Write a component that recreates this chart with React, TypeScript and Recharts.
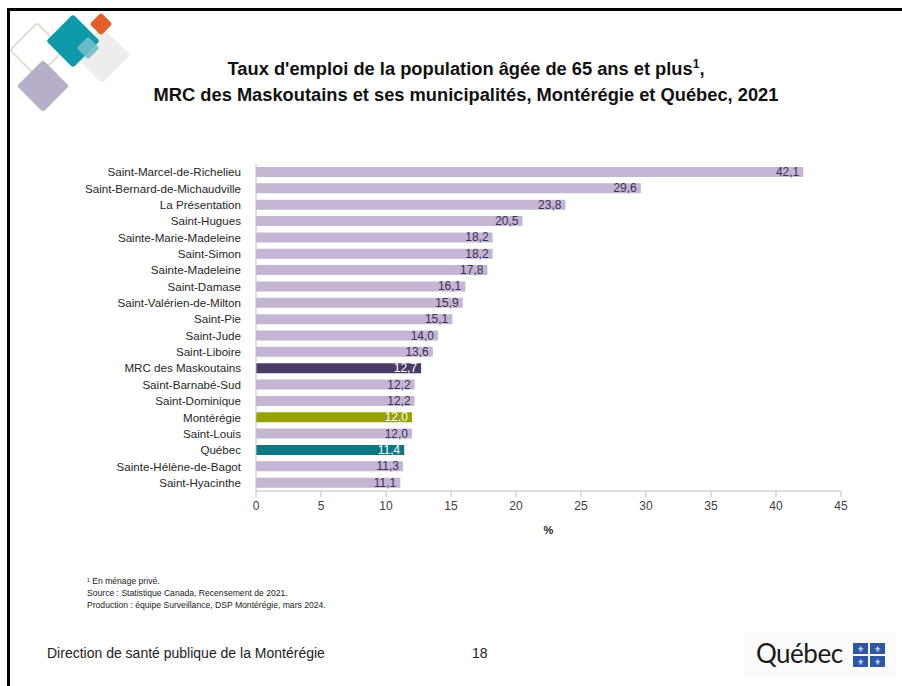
import React from "react";
import { BarChart, Bar, XAxis, YAxis, Cell, LabelList } from "recharts";

const categories = [
  "Saint-Marcel-de-Richelieu",
  "Saint-Bernard-de-Michaudville",
  "La Présentation",
  "Saint-Hugues",
  "Sainte-Marie-Madeleine",
  "Saint-Simon",
  "Sainte-Madeleine",
  "Saint-Damase",
  "Saint-Valérien-de-Milton",
  "Saint-Pie",
  "Saint-Jude",
  "Saint-Liboire",
  "MRC des Maskoutains",
  "Saint-Barnabé-Sud",
  "Saint-Dominique",
  "Montérégie",
  "Saint-Louis",
  "Québec",
  "Sainte-Hélène-de-Bagot",
  "Saint-Hyacinthe",
];

const values = [
  42.1, 29.6, 23.8, 20.5, 18.2, 18.2, 17.8, 16.1, 15.9, 15.1, 14.0, 13.6, 12.7,
  12.2, 12.2, 12.0, 12.0, 11.4, 11.3, 11.1,
];

const xTicks = [0, 5, 10, 15, 20, 25, 30, 35, 40, 45];

const titleLines = [
  "Taux d'emploi de la population âgée de 65 ans et plus",
  "MRC des Maskoutains et ses municipalités, Montérégie et Québec, 2021",
];

const footnotes = [
  "¹ En ménage privé.",
  "Source : Statistique Canada, Recensement de 2021.",
  "Production : équipe Surveillance, DSP Montérégie, mars 2024.",
];

const highlightColors: Record<string, string> = {
  "MRC des Maskoutains": "#4a3b66",
  "Montérégie": "#98a200",
  "Québec": "#0e7782",
};
const defaultColor = "#c4b5d5";

const data = categories.map((name, i) => ({ name, value: values[i] }));

const fmt = (v: number) => v.toFixed(1).replace(".", ",");

const FONT = "'Liberation Sans', Arial, sans-serif";

const ValueLabel = (props: any) => {
  const { x, y, width, height, value, index } = props;
  const name = categories[index];
  const hl = highlightColors[name] !== undefined;
  return (
    <text
      x={x + width - 4}
      y={y + height / 2}
      textAnchor="end"
      dominantBaseline="central"
      fontSize={12}
      fontFamily={FONT}
      fill={hl ? "#ffffff" : "#3d3152"}
    >
      {fmt(value)}
    </text>
  );
};

const Logo = () => (
  <svg width={140} height={120} style={{ position: "absolute", left: 0, top: 0 }}>
    <rect x={37 - 19} y={50 - 19} width={38} height={38} rx={3}
      transform="rotate(45 37 50)" fill="none" stroke="#dde2d6" strokeWidth={2} />
    <rect x={43 - 18.5} y={86 - 18.5} width={37} height={37} rx={3}
      transform="rotate(45 43 86)" fill="#b7afc9" />
    <rect x={102 - 20} y={55 - 20} width={40} height={40} rx={3}
      transform="rotate(45 102 55)" fill="#efedeb" />
    <rect x={73 - 19} y={41 - 19} width={38} height={38} rx={3}
      transform="rotate(45 73 41)" fill="#0f9aab" />
    <rect x={101 - 8} y={24 - 8} width={16} height={16} rx={2}
      transform="rotate(45 101 24)" fill="#e2602a" />
    <rect x={88 - 8} y={48 - 8} width={16} height={16} rx={2}
      transform="rotate(45 88 48)" fill="#6fc0c8" opacity={0.9} />
  </svg>
);

const QuebecLogo = () => (
  <div style={{ position: "absolute", left: 745, top: 632, width: 152, height: 46, background: "#fbfbfb" }}>
    <span style={{ position: "absolute", left: 11, top: 5, fontFamily: "Lato, 'Open Sans', sans-serif", fontSize: 26, color: "#1a1a1a", letterSpacing: -0.5, lineHeight: "32px" }}>
      Québec
    </span>
    <svg width={34} height={26} style={{ position: "absolute", left: 108, top: 11 }}>
      {[0, 1].map((r) =>
        [0, 1].map((c) => (
          <g key={`${r}-${c}`}>
            <rect x={c * 17} y={r * 13} width={15} height={11} fill="#2b57a6" />
            <text x={c * 17 + 7.5} y={r * 13 + 8.5} fontSize={8} fill="#fff" textAnchor="middle">⚜</text>
          </g>
        ))
      )}
    </svg>
  </div>
);

export default function App() {
  return (
    <div style={{ position: "absolute", left: 0, top: 0, width: 902, height: 686, background: "#fff", overflow: "hidden" }}>
      <div style={{ position: "absolute", left: 7, top: 8, width: 895, height: 3, background: "#000" }} />
      <div style={{ position: "absolute", left: 7, top: 8, width: 3, height: 678, background: "#000" }} />
      <Logo />
      <div style={{ position: "absolute", left: 0, top: 51, width: 932, textAlign: "center", fontFamily: FONT, fontWeight: "bold", fontSize: 18.3, color: "#111", lineHeight: "26px" }}>
        <div>{titleLines[0]}<sup style={{ fontSize: 12 }}>1</sup>,</div>
        <div>{titleLines[1]}</div>
      </div>
      <div style={{ position: "absolute", left: 0, top: 0 }}>
        <BarChart
          width={902}
          height={686}
          data={data}
          layout="vertical"
          margin={{ top: 164, right: 61, bottom: 165, left: 80 }}
          barCategoryGap={3}
        >
          <XAxis
            type="number"
            domain={[0, 45]}
            ticks={xTicks}
            interval={0}
            axisLine={{ stroke: "#bfbfbf" }}
            tickLine={{ stroke: "#bfbfbf" }}
            tickSize={6}
            tick={{ fontSize: 12, fontFamily: FONT, fill: "#404040" }}
            tickMargin={4}
            height={30}
            label={{ value: "%", position: "insideBottom", offset: -13, style: { fontSize: 11, fontWeight: "bold", fontFamily: FONT, fill: "#222" } }}
          />
          <YAxis
            type="category"
            dataKey="name"
            width={176}
            axisLine={{ stroke: "#bfbfbf" }}
            tickLine={false}
            interval={0}
            tickMargin={9}
            tick={{ fontSize: 11.6, fontFamily: FONT, fill: "#262626" }}
          />
          <Bar dataKey="value" barSize={10} isAnimationActive={false}>
            {data.map((d) => (
              <Cell key={d.name} fill={highlightColors[d.name] ?? defaultColor} />
            ))}
            <LabelList dataKey="value" content={ValueLabel} />
          </Bar>
        </BarChart>
      </div>
      <div style={{ position: "absolute", left: 87, top: 575, fontFamily: FONT, fontSize: 8.6, color: "#222", lineHeight: "12px" }}>
        {footnotes.map((f) => (
          <div key={f}>{f}</div>
        ))}
      </div>
      <div style={{ position: "absolute", left: 47, top: 645, fontFamily: FONT, fontSize: 14, color: "#222" }}>
        Direction de santé publique de la Montérégie
      </div>
      <div style={{ position: "absolute", left: 472, top: 645, fontFamily: FONT, fontSize: 14, color: "#222" }}>18</div>
      <QuebecLogo />
    </div>
  );
}
